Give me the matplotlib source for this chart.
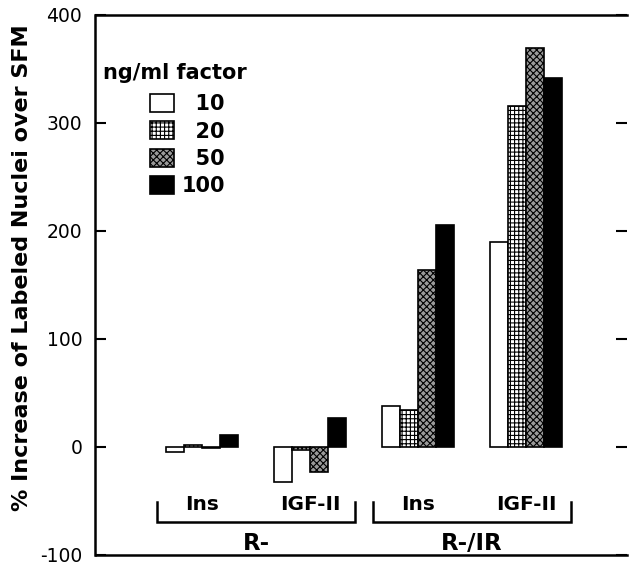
import matplotlib
matplotlib.use("Agg")
import matplotlib.pyplot as plt
import numpy as np
from matplotlib.patches import Patch

# data (% increase over SFM)
groups = ["Ins", "IGF-II", "Ins", "IGF-II"]
cells = ["R-", "R-/IR"]
doses = ["10", "20", "50", "100"]
d10 = [-5, -32, 38, 190]
d20 = [2, -3, 34, 316]
d50 = [-1, -23, 164, 369]
d100 = [11, 27, 206, 342]
yticks = [-100, 0, 100, 200, 300, 400]

plt.rcParams["font.family"] = ["DejaVu Sans"]
plt.rcParams["hatch.linewidth"] = 0.8
plt.rcParams["axes.unicode_minus"] = False

fig = plt.figure(figsize=(6.29, 5.68), dpi=100)
ax = fig.add_axes([95.5 / 629, 13 / 568, 531 / 629, 540 / 568])

styles = [
    dict(facecolor="white", hatch=None),
    dict(facecolor="white", hatch="++++"),
    dict(facecolor="#9a9a9a", hatch="xxxxx"),
    dict(facecolor="black", hatch=None),
]
series = [d10, d20, d50, d100]
x = np.arange(len(groups))
w = 1 / 6
for i, (vals, st) in enumerate(zip(series, styles)):
    ax.bar(x + (i - 1.5) * w, vals, w, edgecolor="black", linewidth=1.2,
           facecolor=st["facecolor"], hatch=st["hatch"], zorder=2)

# pixel-matched x range: group centres 108 px apart
ax.set_xlim((95.5 - 202) / 108, (626.5 - 202) / 108)
ax.set_ylim(-100, 400)
ax.set_xticks([])
ax.set_yticks(yticks)
ax.tick_params(axis="y", direction="in", length=8, width=1.5, pad=9.5,
               labelsize=13.5, right=True)
for side in ["left", "top", "bottom"]:
    ax.spines[side].set_linewidth(1.8)
ax.spines["right"].set_visible(False)

# group brackets and labels
for c, center in zip(cells, [0.5, 2.5]):
    lo, hi = center - 0.92, center + 0.92
    ax.plot([lo, lo, hi, hi], [-51, -69, -69, -51], color="black", lw=1.8,
            clip_on=False, solid_joinstyle="miter")
    ax.text(center, -89, c, ha="center", va="center", fontsize=16.5, fontweight="bold")
for xi, g in zip(x, groups):
    ax.text(xi, -53, g, ha="center", va="center", fontsize=14.5, fontweight="bold")

fig.text(22 / 629, 1 - 268 / 568, "% Increase of Labeled Nuclei over SFM",
         rotation=90, ha="center", va="center", fontsize=16, fontweight="bold")

# legend
handles = [Patch(facecolor=st["facecolor"], hatch=st["hatch"], edgecolor="black",
                 linewidth=1.2) for st in styles]
labels = ["\u2007" + d if len(d) < 3 else d for d in doses]
fig.text(103 / 629, 1 - 73 / 568, "ng/ml factor", ha="left", va="center",
         fontsize=15, fontweight="bold")
leg = ax.legend(handles, labels, loc="upper left",
                bbox_to_anchor=(150 / 629, 1 - 94 / 568), bbox_transform=fig.transFigure,
                frameon=False, handlelength=1.15, handleheight=0.95, handletextpad=0.35,
                labelspacing=0.35, borderpad=0, borderaxespad=0,
                prop=dict(size=15, weight="bold"))

fig.savefig("out.png", dpi=100)
